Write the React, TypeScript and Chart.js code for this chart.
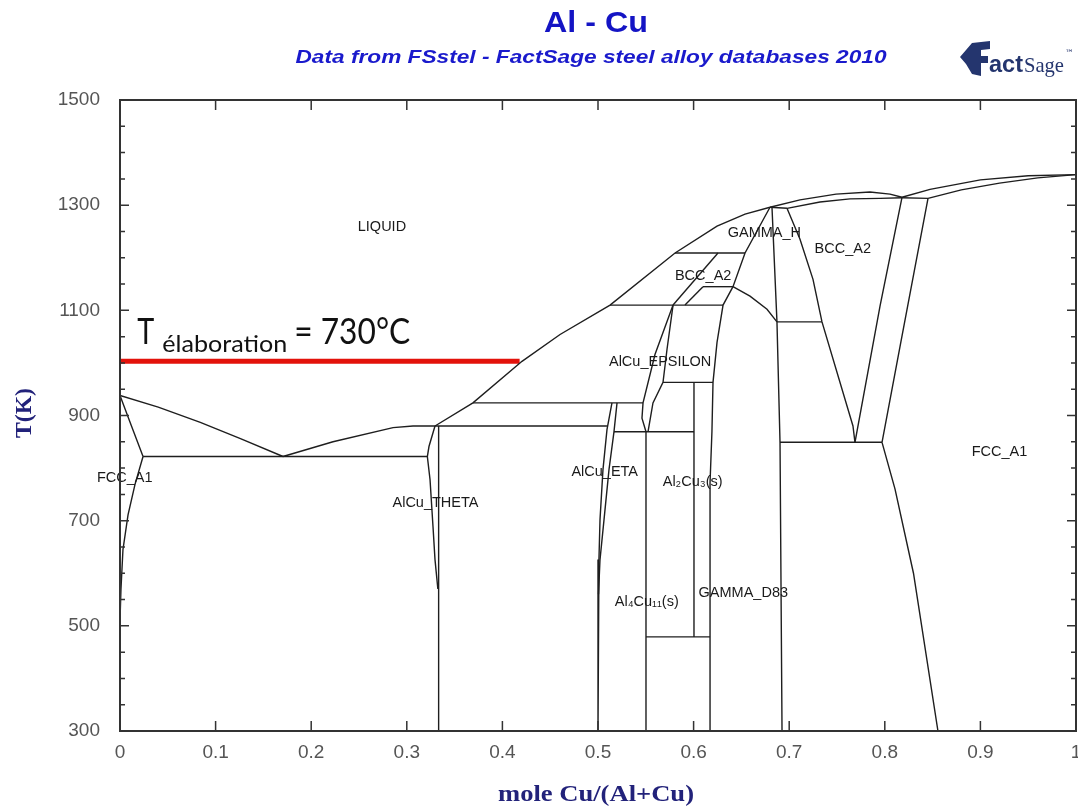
import React, { useEffect, useRef } from "react";
import { Chart, registerables } from "chart.js";

Chart.register(...registerables);

type Pt = [number, number];

const CANVAS_W = 1078;
const CANVAS_H = 807;

// ---------- axis ticks ----------
const xTickValues = [0, 0.1, 0.2, 0.3, 0.4, 0.5, 0.6, 0.7, 0.8, 0.9, 1];
const yTickValues = [300, 500, 700, 900, 1100, 1300, 1500];
const yMinorTicks = [350, 400, 450, 550, 600, 650, 750, 800, 850, 950, 1000, 1050, 1150, 1200, 1250, 1350, 1400, 1450];

// ---------- phase boundaries: [mole Cu/(Al+Cu), T(K)] ----------
const liquidusAl: Pt[] = [[0, 938], [0.04, 916], [0.084, 887], [0.126, 856], [0.1705, 822]];
const solidusAl: Pt[] = [[0, 938], [0.012, 880], [0.0241, 822]];
const solvusAl: Pt[] = [[0.0241, 822], [0.0157, 769], [0.0084, 711], [0.0031, 645], [0.001, 569], [0, 511]];
const eutecticAl: Pt[] = [[0.0241, 822], [0.3215, 822]];
const liquidusTheta: Pt[] = [[0.1705, 822], [0.2228, 850], [0.2856, 877], [0.3065, 880], [0.3295, 880]];
const liquidusMid: Pt[] = [[0.3295, 880], [0.3692, 924], [0.4205, 1003], [0.4603, 1054], [0.5126, 1110], [0.5806, 1209], [0.6245, 1260], [0.6538, 1283], [0.6799, 1296]];
const thetaLeft: Pt[] = [[0.3295, 880], [0.3232, 841], [0.3215, 822], [0.3243, 778], [0.3274, 689], [0.3295, 626], [0.3325, 570]];
const thetaRight: Pt[] = [[0.3333, 880], [0.3333, 300]];
const peritectic880: Pt[] = [[0.3295, 880], [0.5094, 880]];
const peritectic924: Pt[] = [[0.3692, 924], [0.5471, 924]];
const etaLeft: Pt[] = [[0.5146, 924], [0.5094, 873], [0.5052, 797], [0.5021, 702], [0.501, 626], [0.5, 550], [0.5, 300]];
const etaRight: Pt[] = [[0.5199, 924], [0.5167, 869], [0.5115, 797], [0.5063, 702], [0.5021, 626], [0.5005, 560]];
const eutectoid869: Pt[] = [[0.5167, 869], [0.6004, 869]];
const zetaLine: Pt[] = [[0.5502, 869], [0.5502, 300]];
const epsilonLeft: Pt[] = [[0.5785, 1110], [0.5596, 1016], [0.5471, 924], [0.546, 895], [0.5502, 869]];
const epsilonRight: Pt[] = [[0.5785, 1110], [0.5722, 1026], [0.568, 963], [0.5575, 924], [0.5523, 869]];
const line963: Pt[] = [[0.568, 963], [0.6203, 963]];
const line06: Pt[] = [[0.6004, 963], [0.6004, 479]];
const line479: Pt[] = [[0.5502, 479], [0.6172, 479]];
const gammaLeft: Pt[] = [[0.6799, 1296], [0.6538, 1209], [0.6412, 1145], [0.6308, 1110], [0.6245, 1039], [0.6203, 963], [0.6192, 870], [0.6172, 772], [0.6172, 300]];
const peritectic1110: Pt[] = [[0.5126, 1110], [0.6308, 1110]];
const peritectic1209: Pt[] = [[0.5806, 1209], [0.6538, 1209]];
const bccLowLeft: Pt[] = [[0.5785, 1110], [0.6255, 1209]];
const bccLowRight: Pt[] = [[0.591, 1110], [0.6098, 1145]];
const line1145: Pt[] = [[0.6098, 1145], [0.6412, 1145]];
const gammaCurve: Pt[] = [[0.6412, 1145], [0.659, 1127], [0.6768, 1102], [0.6872, 1078]];
const gammaVertical: Pt[] = [[0.682, 1296], [0.6872, 1078], [0.6904, 849], [0.6925, 300]];
const line1078: Pt[] = [[0.6872, 1078], [0.7343, 1078]];
const gammaTop: Pt[] = [[0.6799, 1296], [0.6977, 1294]];
const bccLeft: Pt[] = [[0.6977, 1294], [0.7113, 1235], [0.7249, 1159], [0.7343, 1078], [0.7667, 880], [0.7688, 849]];
const bccRight: Pt[] = [[0.818, 1315], [0.795, 1108], [0.7688, 849]];
const eutectoid849: Pt[] = [[0.6904, 849], [0.7971, 849]];
const fccBcc: Pt[] = [[0.8452, 1313], [0.8159, 1031], [0.7971, 849]];
const fccSolvus: Pt[] = [[0.7971, 849], [0.8107, 760], [0.83, 600], [0.8556, 300]];
const liquidusBcc: Pt[] = [[0.6799, 1296], [0.7113, 1310], [0.749, 1321], [0.7845, 1325], [0.8054, 1321], [0.818, 1315]];
const solidusBcc: Pt[] = [[0.6977, 1294], [0.7322, 1306], [0.7636, 1312], [0.795, 1313], [0.818, 1314]];
const peritectic1313: Pt[] = [[0.818, 1314], [0.8452, 1313]];
const liquidusCu: Pt[] = [[0.818, 1315], [0.8473, 1330], [0.9, 1348], [0.95, 1356], [1, 1358]];
const solidusCu: Pt[] = [[0.8452, 1313], [0.88, 1329], [0.92, 1342], [0.96, 1352], [1, 1358]];

// elaboration temperature (730 °C = 1003 K)
const elaborationLine: Pt[] = [[0, 1003], [0.418, 1003]];

const boundaryLines: Pt[][] = [
  liquidusAl, solidusAl, solvusAl, eutecticAl, liquidusTheta, liquidusMid, thetaLeft, thetaRight,
  peritectic880, peritectic924, etaLeft, etaRight, eutectoid869, zetaLine, epsilonLeft, epsilonRight,
  line963, line06, line479, gammaLeft, peritectic1110, peritectic1209, bccLowLeft, bccLowRight,
  line1145, gammaCurve, gammaVertical, line1078, gammaTop, bccLeft, bccRight, eutectoid849,
  fccBcc, fccSolvus, liquidusBcc, solidusBcc, peritectic1313, liquidusCu, solidusCu,
];

// ---------- phase labels ----------
const phaseNames = ["LIQUID", "GAMMA_H", "BCC_A2", "BCC_A2", "AlCu_EPSILON", "FCC_A1", "AlCu_THETA", "AlCu_ETA", "Al₂Cu₃(s)", "Al₄Cu₁₁(s)", "GAMMA_D83", "FCC_A1"];
const phaseX = [0.274, 0.674, 0.756, 0.61, 0.565, 0.005, 0.33, 0.507, 0.599, 0.551, 0.652, 0.92];
const phaseT = [1258, 1247, 1216, 1165, 1001, 782, 734, 793, 774, 546, 563, 831];

const titleText = "Al - Cu";
const subtitleText = "Data from FSstel - FactSage steel alloy databases 2010";
const xAxisTitle = "mole Cu/(Al+Cu)";
const yAxisTitle = "T(K)";

function fmtX(v: number): string {
  if (Math.abs(v) < 1e-9) return "0";
  if (Math.abs(v - 1) < 1e-9) return "1";
  return v.toFixed(1);
}

function drawText(
  ctx: CanvasRenderingContext2D, text: string, x: number, y: number,
  font: string, color: string, align: CanvasTextAlign = "center", width?: number,
  baseline: CanvasTextBaseline = "alphabetic",
) {
  ctx.save();
  ctx.font = font;
  ctx.fillStyle = color;
  ctx.textBaseline = baseline;
  ctx.textAlign = align;
  const w = ctx.measureText(text).width;
  const sx = width ? width / w : 1;
  ctx.translate(x, y);
  ctx.scale(sx, 1);
  ctx.fillText(text, 0, 0);
  ctx.restore();
}

const decorPlugin = {
  id: "decor",
  afterDatasetsDraw(chart: any) {
    const ctx: CanvasRenderingContext2D = chart.ctx;
    const xs = chart.scales.x;
    const ys = chart.scales.y;
    phaseNames.forEach((name, i) => {
      drawText(ctx, name, xs.getPixelForValue(phaseX[i]), ys.getPixelForValue(phaseT[i]),
        "14.5px 'Liberation Sans', Arial, sans-serif", "#1a1a1a", "center", undefined, "middle");
    });
  },
  afterDraw(chart: any) {
    const ctx: CanvasRenderingContext2D = chart.ctx;
    const { left, right, top, bottom } = chart.chartArea;
    const xs = chart.scales.x;
    const ys = chart.scales.y;
    ctx.save();
    ctx.strokeStyle = "#333";
    ctx.lineWidth = 2;
    ctx.strokeRect(left, top, right - left, bottom - top);
    ctx.lineWidth = 1.5;
    ctx.beginPath();
    yTickValues.forEach((v) => {
      const y = ys.getPixelForValue(v);
      ctx.moveTo(left, y); ctx.lineTo(left + 9, y);
      ctx.moveTo(right, y); ctx.lineTo(right - 9, y);
    });
    yMinorTicks.forEach((v) => {
      const y = ys.getPixelForValue(v);
      ctx.moveTo(left, y); ctx.lineTo(left + 5, y);
      ctx.moveTo(right, y); ctx.lineTo(right - 5, y);
    });
    xTickValues.forEach((v) => {
      const x = xs.getPixelForValue(v);
      ctx.moveTo(x, bottom); ctx.lineTo(x, bottom - 10);
      ctx.moveTo(x, top); ctx.lineTo(x, top + 10);
    });
    ctx.stroke();
    ctx.restore();

    // titles
    drawText(ctx, titleText, 596, 32, "bold 30px 'Liberation Sans', Arial, sans-serif", "#1414c4", "center", 104);
    drawText(ctx, subtitleText, 591, 63, "italic bold 18px 'Liberation Sans', Arial, sans-serif", "#1a1acc", "center", 591);

    // FactSage logo
    ctx.save();
    ctx.fillStyle = "#24356e";
    ctx.beginPath();
    ctx.moveTo(960, 57); ctx.lineTo(972, 43); ctx.lineTo(990, 41); ctx.lineTo(990, 49);
    ctx.lineTo(981, 50); ctx.lineTo(981, 56); ctx.lineTo(988, 56); ctx.lineTo(988, 63);
    ctx.lineTo(981, 63); ctx.lineTo(981, 76); ctx.lineTo(972, 74); ctx.lineTo(966, 64);
    ctx.closePath(); ctx.fill();
    ctx.restore();
    drawText(ctx, "act", 989, 72, "bold 23px 'Liberation Sans', Arial, sans-serif", "#24356e", "left", 34);
    drawText(ctx, "Sage", 1024, 72, "22px 'Liberation Serif', serif", "#24356e", "left", 40);
    drawText(ctx, "™", 1065, 56, "9px 'DejaVu Sans', sans-serif", "#24356e", "left");

    // axis titles
    drawText(ctx, xAxisTitle, 596, 801, "bold 24px 'Liberation Serif', serif", "#22227a", "center", 196);
    ctx.save();
    ctx.translate(31, 413);
    ctx.rotate(-Math.PI / 2);
    drawText(ctx, yAxisTitle, 0, 0, "bold 23px 'Liberation Serif', serif", "#22227a", "center", 50);
    ctx.restore();

    // elaboration annotation
    const xl = xs.getPixelForValue(0.018);
    const yb = ys.getPixelForValue(elaborationLine[0][1]) - 17;
    drawText(ctx, "T", xl, yb, "36px Lato, 'Open Sans', sans-serif", "#111", "left", 17);
    drawText(ctx, "élaboration", xl + 25, yb + 8, "24px Lato, 'Open Sans', sans-serif", "#111", "left", 125);
    drawText(ctx, "= 730°C", xl + 157, yb, "36px Lato, 'Open Sans', sans-serif", "#111", "left", 116);
  },
};

export default function App() {
  const ref = useRef<HTMLCanvasElement | null>(null);

  useEffect(() => {
    if (!ref.current) return;
    const lineDatasets = boundaryLines.map((pts) => ({
      data: pts.map(([x, y]) => ({ x, y })),
      showLine: true,
      borderColor: "#1e1e1e",
      borderWidth: 1.4,
      pointRadius: 0,
      pointHoverRadius: 0,
      fill: false,
      tension: 0,
    }));
    const redDataset = {
      data: elaborationLine.map(([x, y]) => ({ x, y })),
      showLine: true,
      borderColor: "#e3120b",
      borderWidth: 5,
      pointRadius: 0,
      pointHoverRadius: 0,
      fill: false,
      tension: 0,
    };
    const tickFont = { family: "'Liberation Sans', Arial, sans-serif", size: 19 };
    const chart = new Chart(ref.current, {
      type: "scatter",
      data: { datasets: [...lineDatasets, redDataset] as any },
      options: {
        responsive: false,
        animation: false,
        devicePixelRatio: 1,
        layout: { padding: { left: 0, right: 2, top: 100, bottom: 0 }, autoPadding: false } as any,
        plugins: { legend: { display: false }, tooltip: { enabled: false }, title: { display: false } },
        events: [],
        scales: {
          x: {
            type: "linear",
            min: 0,
            max: 1,
            afterBuildTicks: (s: any) => { s.ticks = xTickValues.map((v) => ({ value: v })); },
            afterFit: (s: any) => { s.height = 76; s.paddingLeft = 0; s.paddingRight = 0; },
            grid: { display: false, drawTicks: false },
            border: { display: false },
            ticks: { padding: 10, color: "#555", font: tickFont, maxRotation: 0, autoSkip: false, callback: (v: any) => fmtX(Number(v)) },
          },
          y: {
            type: "linear",
            min: 300,
            max: 1500,
            afterBuildTicks: (s: any) => { s.ticks = yTickValues.map((v) => ({ value: v })); },
            afterFit: (s: any) => { s.width = 120; s.paddingTop = 0; s.paddingBottom = 0; },
            grid: { display: false, drawTicks: false },
            border: { display: false },
            ticks: { padding: 20, color: "#555", font: tickFont, autoSkip: false, callback: (v: any) => String(v) },
          },
        },
      },
      plugins: [decorPlugin],
    });
    return () => chart.destroy();
  }, []);

  return (
    <div style={{ position: "fixed", left: 0, top: 0, width: CANVAS_W, height: CANVAS_H, background: "#fff" }}>
      <canvas ref={ref} width={CANVAS_W} height={CANVAS_H} style={{ display: "block", width: CANVAS_W, height: CANVAS_H }} />
    </div>
  );
}
